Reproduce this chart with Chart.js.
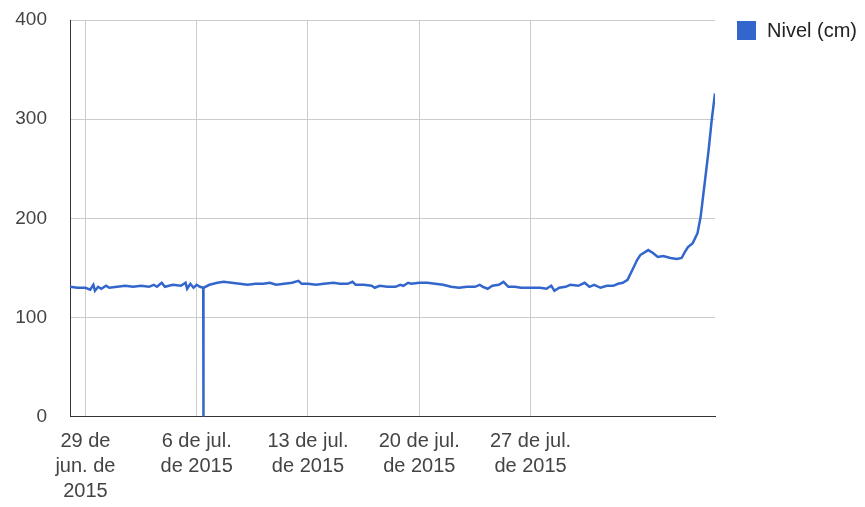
<!DOCTYPE html>
<html>
<head>
<meta charset="utf-8">
<script src="https://cdn.jsdelivr.net/npm/chart.js@4/dist/chart.umd.min.js"></script>
<style>
  html, body { margin: 0; padding: 0; background: #fff; }
  #wrap { width: 865px; height: 507px; position: relative; }
</style>
</head>
<body>
<div id="wrap"><canvas id="chart"></canvas></div>
<script>
// Días desde el 28 de jun. de 2015 (29 de jun. = 1)
const dias = [
  0.03, 0.5, 1.0, 1.3, 1.5, 1.6, 1.8, 2.0, 2.3, 2.5, 3.0, 3.5, 4.0, 4.5, 5.0, 5.3, 5.5, 5.8, 6.0, 6.5,
  7.0, 7.3, 7.4, 7.6, 7.8, 8.0, 8.2, 8.41, 8.42, 8.43, 8.8, 9.3, 9.7, 10.2, 10.7, 11.2, 11.7, 12.2, 12.6, 13.0,
  13.5, 14.0, 14.4, 14.6, 15.0, 15.5, 16.0, 16.6, 17.0, 17.5, 17.8, 18.0, 18.5, 19.0, 19.2, 19.5, 20.0, 20.5, 20.8, 21.0,
  21.3, 21.5, 22.0, 22.5, 23.0, 23.5, 24.0, 24.5, 25.0, 25.5, 25.8, 26.0, 26.3, 26.6, 27.0, 27.3, 27.6, 28.0, 28.4, 28.8,
  29.2, 29.6, 30.0, 30.3, 30.5, 30.8, 31.2, 31.5, 32.0, 32.4, 32.7, 33.0, 33.4, 33.8, 34.2, 34.5, 34.8, 35.1, 35.4, 35.7,
  35.9, 36.4, 36.7, 37.0, 37.35, 37.8, 38.2, 38.5, 38.7, 38.9, 39.2, 39.5, 39.7, 40.0, 40.2, 40.4, 40.6
];
const nivel = [
  131, 130, 130, 128, 133, 127, 131, 129, 132, 130, 131, 132, 131, 132, 131, 133, 131, 135, 131, 133,
  132, 135, 129, 134, 130, 133, 131, 130, 0, 130, 133, 135, 136, 135, 134, 133, 134, 134, 135, 133,
  134, 135, 137, 134, 134, 133, 134, 135, 134, 134, 136, 133, 133, 132, 130, 132, 131, 131, 133, 132,
  135, 134, 135, 135, 134, 133, 131, 130, 131, 131, 133, 131, 129, 132, 133, 136, 131, 131, 130, 130,
  130, 130, 129, 132, 127, 130, 131, 133, 132, 135, 131, 133, 130, 132, 132, 134, 135, 138, 148, 158,
  163, 168, 165, 161, 162, 160, 159, 160, 166, 171, 175, 185, 202, 242, 269, 300, 326
];
const tickDias = [1, 8, 15, 22, 29];
const tickEtiquetas = [
  ['29 de', 'jun. de', '2015'],
  ['6 de jul.', 'de 2015'],
  ['13 de jul.', 'de 2015'],
  ['20 de jul.', 'de 2015'],
  ['27 de jul.', 'de 2015']
];
const serieNombre = 'Nivel (cm)';
const serieColor = '#3366cc';

const familia = 'Arial, "Liberation Sans", sans-serif';

// Leyenda dibujada a mano (estilo Google Charts)
const leyendaPlugin = {
  id: 'leyendaDerecha',
  afterDraw(chart) {
    const ctx = chart.ctx;
    const ds = chart.data.datasets[0];
    ctx.save();
    ctx.fillStyle = ds.borderColor;
    ctx.fillRect(737, 21, 19, 19);
    ctx.fillStyle = '#222';
    ctx.font = `20px ${familia}`;
    ctx.textBaseline = 'middle';
    ctx.textAlign = 'left';
    ctx.fillText(ds.label, 767, 31);
    ctx.restore();
  }
};

new Chart(document.getElementById('chart'), {
  type: 'line',
  data: {
    datasets: [{
      label: serieNombre,
      data: dias.map((d, i) => ({ x: d, y: nivel[i] })),
      borderColor: serieColor,
      backgroundColor: serieColor,
      borderWidth: 2.5,
      pointRadius: 0,
      tension: 0,
      fill: false
    }]
  },
  options: {
    responsive: true,
    maintainAspectRatio: false,
    animation: false,
    layout: { padding: { left: 0, top: 20, right: 150, bottom: 0 } },
    plugins: {
      legend: { display: false },
      tooltip: { enabled: false }
    },
    scales: {
      x: {
        type: 'linear',
        min: 0.03,
        max: 40.6,
        afterBuildTicks: (scale) => { scale.ticks = tickDias.map(v => ({ value: v })); },
        afterFit: (scale) => {
          scale.height = 90.3;
          scale.paddingLeft = 0;
          scale.paddingRight = 0;
        },
        ticks: {
          autoSkip: false,
          maxRotation: 0,
          padding: 12,
          color: '#444',
          font: { family: familia, size: 20, lineHeight: 1.25 },
          callback: (v) => {
            const i = tickDias.indexOf(v);
            return i >= 0 ? tickEtiquetas[i] : '';
          }
        },
        grid: { color: '#cccccc', drawTicks: false },
        border: { color: '#333', width: 1 }
      },
      y: {
        min: 0,
        max: 400,
        afterFit: (scale) => {
          scale.width = 70;
          scale.paddingTop = 0;
          scale.paddingBottom = 0;
        },
        ticks: {
          stepSize: 100,
          padding: 23,
          color: '#444',
          font: { family: familia, size: 19 }
        },
        grid: { color: '#cccccc', drawTicks: false },
        border: { color: '#333', width: 1 }
      }
    }
  },
  plugins: [leyendaPlugin]
});
</script>
</body>
</html>
